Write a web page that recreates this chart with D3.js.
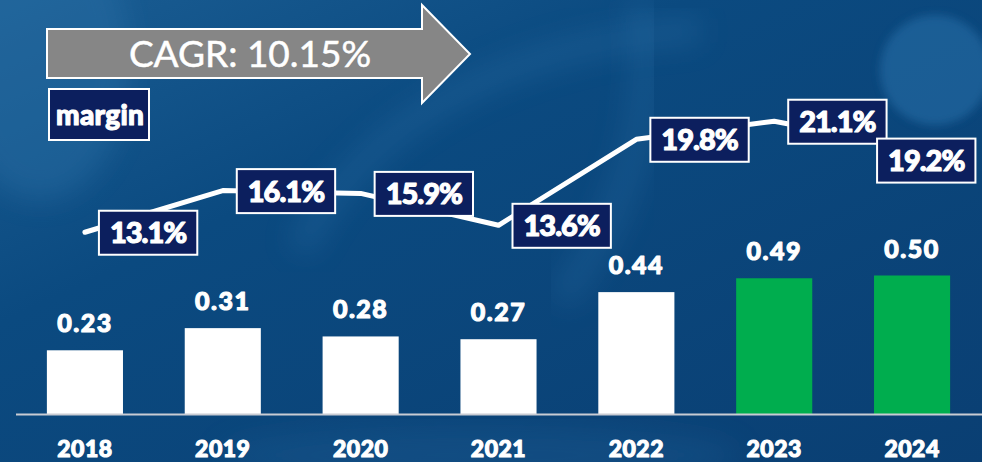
<!DOCTYPE html>
<html>
<head>
<meta charset="utf-8">
<script src="https://cdn.jsdelivr.net/npm/d3@7"></script>
<style>
  body { margin: 0; background: #0b4a7f; }
  svg { display: block; }
  .heavy { stroke: #fff; stroke-width: 1.1px; paint-order: stroke; stroke-linejoin: round; }
</style>
</head>
<body>
<div id="chart"></div>
<script>
// datos
const years = ["2018", "2019", "2020", "2021", "2022", "2023", "2024"];
const revenue = [0.23, 0.31, 0.28, 0.27, 0.44, 0.49, 0.50];
const marginPct = [13.1, 16.1, 15.9, 13.6, 19.8, 21.1, 19.2];
const forecast = [false, false, false, false, false, true, true];
const cagrText = "CAGR: 10.15%";
const seriesName = "margin";

const W = 982, H = 462;
const baseY = 414;

const svg = d3.select("#chart")
  .append("svg")
  .attr("width", W)
  .attr("height", H);

// fondo
const defs = svg.append("defs");
const bg = defs.append("linearGradient").attr("id", "bg")
  .attr("x1", 0).attr("y1", 0).attr("x2", 1).attr("y2", 1);
bg.append("stop").attr("offset", "0%").attr("stop-color", "#1a5d93");
bg.append("stop").attr("offset", "35%").attr("stop-color", "#0b4a80");
bg.append("stop").attr("offset", "100%").attr("stop-color", "#0a3f73");
defs.append("filter").attr("id", "blur")
  .append("feGaussianBlur").attr("stdDeviation", 14);
defs.append("filter").attr("id", "blur2")
  .append("feGaussianBlur").attr("stdDeviation", 4);

svg.append("rect").attr("width", W).attr("height", H).attr("fill", "url(#bg)");

const deco = svg.append("g");
deco.append("ellipse").attr("cx", 40).attr("cy", 60).attr("rx", 90).attr("ry", 140)
  .attr("fill", "#2a6fa6").attr("opacity", 0.45).attr("filter", "url(#blur)");
deco.append("path")
  .attr("d", "M300,250 C360,120 520,40 700,30")
  .attr("fill", "none").attr("stroke", "#2b6ea5").attr("stroke-width", 26)
  .attr("opacity", 0.35).attr("filter", "url(#blur)");
deco.append("path")
  .attr("d", "M560,300 C620,220 660,120 640,0")
  .attr("fill", "none").attr("stroke", "#2b6ea5").attr("stroke-width", 30)
  .attr("opacity", 0.3).attr("filter", "url(#blur)");
deco.append("circle").attr("cx", 935).attr("cy", 70).attr("r", 55)
  .attr("fill", "#2468a0").attr("opacity", 0.7).attr("filter", "url(#blur2)");
deco.append("ellipse").attr("cx", 480).attr("cy", 455).attr("rx", 260).attr("ry", 30)
  .attr("fill", "#1b5a90").attr("opacity", 0.4).attr("filter", "url(#blur)");

// escalas
const x = d3.scaleBand()
  .domain(years)
  .range([16, 981])
  .paddingInner(0.448)
  .paddingOuter(0.224);

const yBar = d3.scaleLinear().domain([0, 1]).range([baseY, 137]);
const yPct = d3.scaleLinear().domain([0, 30]).range([baseY, -2.25]);

const cx = d => x(d) + x.bandwidth() / 2;

// barras
svg.selectAll(".bar")
  .data(years)
  .enter().append("rect")
  .attr("class", "bar")
  .attr("x", d => x(d))
  .attr("width", x.bandwidth())
  .attr("y", (d, i) => yBar(revenue[i]))
  .attr("height", (d, i) => baseY - yBar(revenue[i]))
  .attr("fill", (d, i) => forecast[i] ? "#00ad4e" : "#ffffff");

// eje
svg.append("line")
  .attr("x1", 16).attr("x2", W)
  .attr("y1", baseY + 0.5).attr("y2", baseY + 0.5)
  .attr("stroke", "#c9ccd3").attr("stroke-width", 2);

const xAxis = svg.append("g")
  .attr("transform", `translate(0,${baseY})`)
  .call(d3.axisBottom(x).tickSize(0).tickPadding(0));
xAxis.select(".domain").remove();
xAxis.selectAll("text")
  .attr("class", "heavy")
  .attr("y", 43)
  .attr("dy", 0)
  .attr("fill", "#fff")
  .style("font-family", "Lato, sans-serif")
  .style("font-weight", 900)
  .style("font-size", "23px")
  .style("letter-spacing", "0.5px");

// etiquetas de barras
svg.selectAll(".bar-label")
  .data(years)
  .enter().append("text")
  .attr("class", "bar-label heavy")
  .attr("x", d => cx(d))
  .attr("y", (d, i) => yBar(revenue[i]) - 18)
  .attr("text-anchor", "middle")
  .attr("fill", "#fff")
  .style("font-family", "Lato, sans-serif")
  .style("font-weight", 900)
  .style("font-size", "25px")
  .style("letter-spacing", "1.5px")
  .text((d, i) => revenue[i].toFixed(2));

// línea de margen
const line = d3.line()
  .x(d => cx(d))
  .y((d, i) => yPct(marginPct[i]));

svg.append("path")
  .datum(years)
  .attr("d", line)
  .attr("fill", "none")
  .attr("stroke", "#fff")
  .attr("stroke-width", 5)
  .attr("stroke-linejoin", "round")
  .attr("stroke-linecap", "round");

// etiquetas del margen
const tags = svg.selectAll(".pct")
  .data(years)
  .enter().append("g")
  .attr("class", "pct");

tags.append("rect")
  .attr("fill", "#0c1f5e")
  .attr("stroke", "#fff")
  .attr("stroke-width", 2);

tags.append("text")
  .attr("class", "heavy")
  .attr("fill", "#fff")
  .attr("text-anchor", "middle")
  .style("font-family", "Lato, sans-serif")
  .style("font-weight", 900)
  .style("font-size", "29px")
  .style("letter-spacing", "-1px")
  .text((d, i) => marginPct[i].toFixed(1) + "%");

tags.each(function (d, i) {
  const g = d3.select(this);
  const tw = g.select("text").node().getComputedTextLength();
  const bw = tw + 22, bh = 44;
  const last = i === years.length - 1;
  const px = cx(d), py = yPct(marginPct[i]);
  const left = last ? px - 35 : px + 14;
  const midY = last ? py + 13 : py + 0.5;
  g.select("rect")
    .attr("x", left).attr("y", midY - bh / 2)
    .attr("width", bw).attr("height", bh);
  g.select("text")
    .attr("x", left + bw / 2)
    .attr("y", midY + 10.5);
});

// flecha CAGR
svg.append("path")
  .attr("d", "M47,29 L422,29 L422,5 L470,54 L422,103 L422,78 L47,78 Z")
  .attr("fill", "#868686")
  .attr("stroke", "#fff")
  .attr("stroke-width", 2);

svg.append("text")
  .attr("x", 250).attr("y", 67)
  .attr("text-anchor", "middle")
  .attr("fill", "#fff")
  .attr("stroke", "#fff")
  .attr("stroke-width", 0.5)
  .style("font-family", "Lato, sans-serif")
  .style("font-size", "37px")
  .text(cagrText);

// caja de serie
svg.append("rect")
  .attr("x", 49).attr("y", 89)
  .attr("width", 100).attr("height", 51)
  .attr("fill", "#0c1f5e")
  .attr("stroke", "#fff")
  .attr("stroke-width", 2);

svg.append("text")
  .attr("class", "heavy")
  .attr("x", 56).attr("y", 125)
  .attr("fill", "#fff")
  .style("font-family", "Lato, sans-serif")
  .style("font-weight", 900)
  .style("font-size", "28px")
  .style("letter-spacing", "0.3px")
  .text(seriesName);
</script>
</body>
</html>
